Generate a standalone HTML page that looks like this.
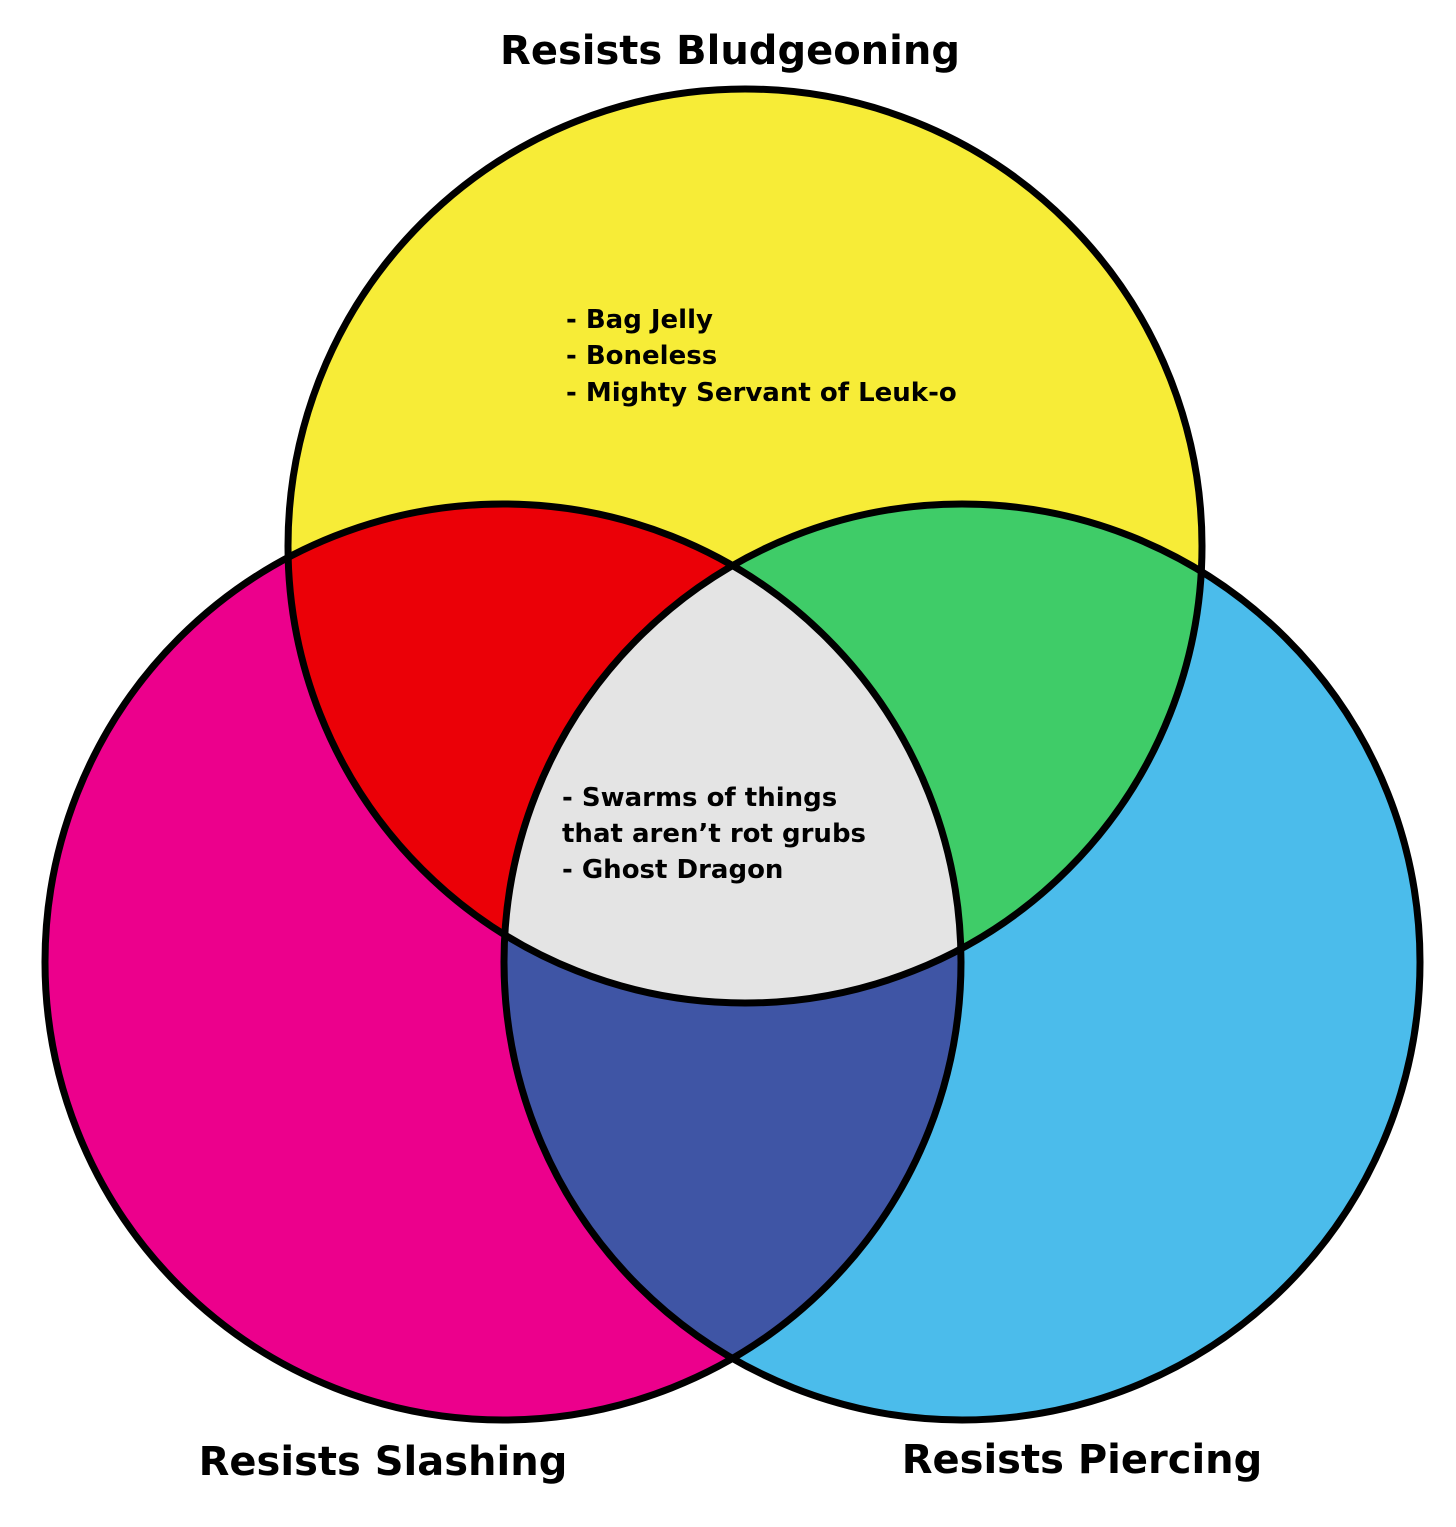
<!DOCTYPE html>
<html><head><meta charset="utf-8"><style>
html,body{margin:0;padding:0;background:#fff;}
svg{display:block;}
text{font-family:"DejaVu Sans","Liberation Sans",sans-serif;font-weight:bold;fill:#000;}
</style></head><body>
<svg width="1456" height="1527" viewBox="0 0 1456 1527" xmlns="http://www.w3.org/2000/svg">
<defs>
<clipPath id="cT"><circle cx="745" cy="546" r="457"/></clipPath>
<clipPath id="cL"><circle cx="503" cy="962" r="458"/></clipPath>
<clipPath id="cR"><circle cx="962" cy="962" r="458"/></clipPath>
</defs>
<rect width="1456" height="1527" fill="#fff"/>
<circle cx="745" cy="546" r="457" fill="#F7EC37"/>
<circle cx="503" cy="962" r="458" fill="#EC008C"/>
<circle cx="962" cy="962" r="458" fill="#4BBCEB"/>
<circle cx="503" cy="962" r="458" fill="#EB0007" clip-path="url(#cT)"/>
<circle cx="962" cy="962" r="458" fill="#3FCC68" clip-path="url(#cT)"/>
<circle cx="962" cy="962" r="458" fill="#3F55A5" clip-path="url(#cL)"/>
<g clip-path="url(#cT)"><circle cx="962" cy="962" r="458" fill="#E4E4E4" clip-path="url(#cL)"/></g>
<g fill="none" stroke="#000" stroke-width="7">
<circle cx="745" cy="546" r="457"/>
<circle cx="503" cy="962" r="458"/>
<circle cx="962" cy="962" r="458"/>
</g>
<text x="730" y="64" font-size="40" text-anchor="middle">Resists Bludgeoning</text>
<text x="383" y="1475" font-size="40" text-anchor="middle">Resists Slashing</text>
<text x="1082" y="1473" font-size="40" text-anchor="middle">Resists Piercing</text>
<g font-size="26">
<text x="566" y="328">- Bag Jelly</text>
<text x="566" y="364">- Boneless</text>
<text x="566" y="401">- Mighty Servant of Leuk-o</text>
<text x="562" y="806">- Swarms of things</text>
<text x="562" y="842">that aren’t rot grubs</text>
<text x="562" y="878">- Ghost Dragon</text>
</g>
</svg>
</body></html>
